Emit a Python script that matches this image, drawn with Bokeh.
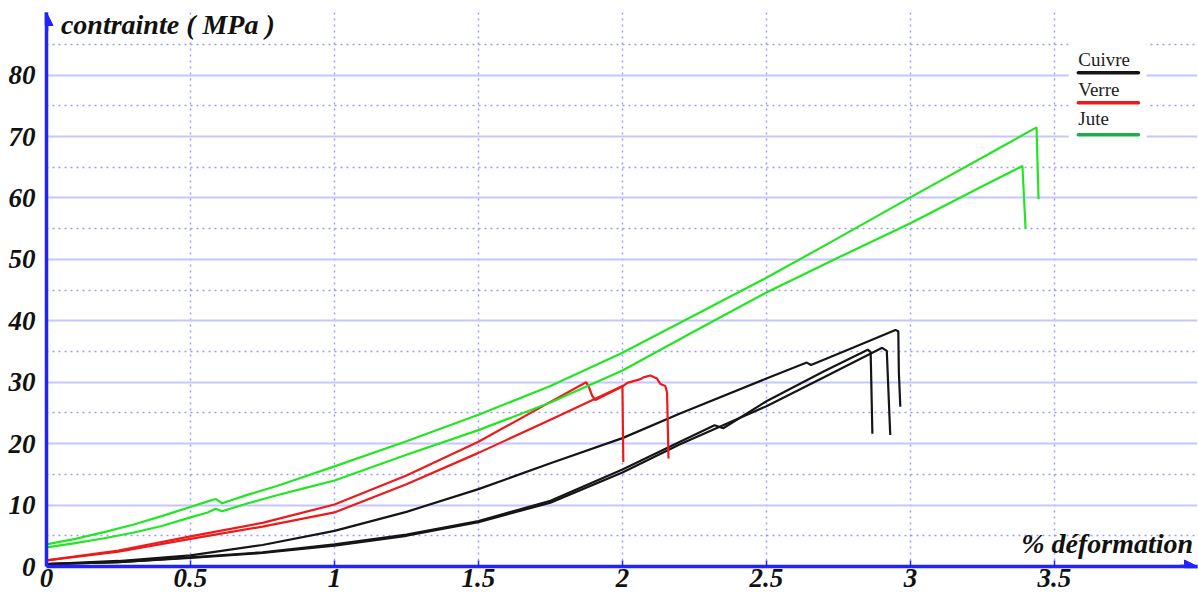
from bokeh.plotting import figure
from bokeh.models import FixedTicker, Arrow, NormalHead, Label, BoxAnnotation, Range1d
from bokeh.embed import file_html
from bokeh.resources import INLINE

# ---------------- data ----------------
x_ticks = [0, 0.5, 1, 1.5, 2, 2.5, 3, 3.5]
x_tick_labels = ["0", "0.5", "1", "1.5", "2", "2.5", "3", "3.5"]
y_ticks = [0, 10, 20, 30, 40, 50, 60, 70, 80]
y_minor_ticks = [5, 15, 25, 35, 45, 55, 65, 75, 85]

legend_names = ["Cuivre", "Verre", "Jute"]

# Jute (green) - two specimens
jute1_x = [0, 0.1, 0.2, 0.3, 0.4, 0.5, 0.56, 0.587, 0.61, 0.7, 0.8, 0.9, 1.0, 1.25, 1.5, 1.75, 2.0,
           2.25, 2.5, 2.75, 3.0, 3.25, 3.438, 3.445]
jute1_y = [3.6, 4.5, 5.6, 6.8, 8.2, 9.7, 10.6, 11.0, 10.3, 11.7, 13.1, 14.7, 16.3, 20.4, 24.7, 29.4, 34.8,
           40.9, 47.0, 53.5, 60.1, 66.6, 71.5, 59.8]
jute2_x = [0, 0.1, 0.2, 0.3, 0.4, 0.5, 0.56, 0.587, 0.61, 0.7, 0.8, 0.9, 1.0, 1.25, 1.5, 1.75, 2.0,
           2.25, 2.5, 2.75, 3.0, 3.25, 3.389, 3.40]
jute2_y = [3.1, 3.8, 4.6, 5.5, 6.6, 8.0, 8.8, 9.4, 9.0, 10.3, 11.6, 12.8, 14.0, 18.2, 22.2, 26.7, 31.9,
           38.3, 44.6, 50.3, 55.9, 61.9, 65.2, 55.0]

# Verre (red) - two specimens
verre1_x = [0, 0.25, 0.5, 0.75, 1.0, 1.25, 1.5, 1.75, 1.874, 1.882, 1.895, 1.906, 2.003, 2.017,
            2.063, 2.073, 2.097, 2.12, 2.132, 2.149, 2.155, 2.16]
verre1_y = [1.0, 2.6, 4.9, 7.1, 10.1, 14.8, 20.3, 26.8, 30.0, 29.4, 27.8, 27.1, 29.4, 29.9,
            30.5, 30.8, 31.1, 30.6, 29.7, 29.4, 28.3, 17.6]
verre2_x = [0, 0.25, 0.5, 0.75, 1.0, 1.25, 1.5, 1.75, 2.0, 2.003]
verre2_y = [1.0, 2.4, 4.5, 6.5, 8.8, 13.4, 18.5, 23.9, 29.4, 17.0]

# Cuivre (black) - three specimens
cuivre1_x = [0, 0.25, 0.5, 0.75, 1.0, 1.25, 1.5, 1.75, 2.0, 2.2, 2.5, 2.64, 2.655, 2.8, 2.948,
             2.958, 2.96, 2.965]
cuivre1_y = [0.4, 0.9, 1.8, 3.5, 5.8, 8.9, 12.6, 16.8, 20.9, 24.9, 30.6, 33.2, 32.8, 35.6, 38.5,
             38.3, 31.5, 26.0]
cuivre2_x = [0, 0.25, 0.5, 0.75, 1.0, 1.25, 1.5, 1.75, 2.0, 2.2, 2.32, 2.35, 2.5, 2.7, 2.852,
             2.862, 2.868]
cuivre2_y = [0.4, 0.7, 1.5, 2.3, 3.6, 5.2, 7.4, 10.7, 15.8, 20.3, 23.0, 22.5, 26.9, 31.8, 35.3,
             34.9, 21.6]
cuivre3_x = [0, 0.25, 0.5, 0.75, 1.0, 1.25, 1.5, 1.75, 2.0, 2.2, 2.33, 2.5, 2.7, 2.902, 2.918,
             2.93]
cuivre3_y = [0.4, 0.7, 1.4, 2.2, 3.4, 5.0, 7.2, 10.4, 15.3, 19.9, 22.6, 26.1, 30.8, 35.6, 35.1,
             21.4]

# ---------------- styles ----------------
BLUE = "#2222ff"
GREEN = "#22e622"
RED = "#ee1a1a"
BLACK = "#151515"
LEG_GREEN = "#1fad4a"
FONT = "Liberation Serif"

X_END = 3.997
Y_END = 90.2

p = figure(width=1198, height=598, output_backend="svg", toolbar_location=None,
           x_range=Range1d(0, X_END), y_range=Range1d(0, Y_END),
           min_border_left=46, min_border_right=1, min_border_top=12, min_border_bottom=32,
           background_fill_color="white", border_fill_color="white", outline_line_color=None)

# axes
p.xaxis.ticker = FixedTicker(ticks=x_ticks)
p.xaxis.major_label_overrides = {t: s for t, s in zip(x_ticks, x_tick_labels)}
p.yaxis.ticker = FixedTicker(ticks=y_ticks, minor_ticks=y_minor_ticks)
for ax in (p.xaxis, p.yaxis):
    ax.axis_line_color = BLUE
    ax.axis_line_width = 3.5
    ax.major_label_text_font = FONT
    ax.major_label_text_font_style = "bold italic"
    ax.major_label_text_font_size = "27px"
    ax.major_label_text_color = "#111111"
    ax.minor_tick_line_color = None
    ax.major_tick_line_color = BLUE
    ax.major_tick_line_width = 1.5
p.xaxis.major_tick_in = 6
p.xaxis.major_tick_out = 0
p.xaxis.major_label_standoff = 2
p.yaxis.major_tick_in = 0
p.yaxis.major_tick_out = 0
p.yaxis.major_label_standoff = 7

# grids
p.xgrid.ticker = FixedTicker(ticks=x_ticks)
p.xgrid.grid_line_color = "#9a9aff"
p.xgrid.grid_line_dash = "2 4"
p.xgrid.grid_line_width = 1.5
p.ygrid.ticker = FixedTicker(ticks=y_ticks, minor_ticks=y_minor_ticks)
p.ygrid.grid_line_color = "#c6c6ff"
p.ygrid.grid_line_width = 2
p.ygrid.minor_grid_line_color = "#9a9aff"
p.ygrid.minor_grid_line_dash = "2 4"
p.ygrid.minor_grid_line_width = 1.5

# legend background patch (under the curves, over the grid)
p.add_layout(BoxAnnotation(left=3.55, right=3.82, bottom=67.2, top=88.0, level="underlay",
                           fill_color="white", fill_alpha=1.0, line_color=None))

# arrow heads on the axes
p.add_layout(Arrow(end=NormalHead(size=13, fill_color=BLUE, line_color=BLUE),
                   x_start=X_END - 0.06, y_start=0, x_end=X_END, y_end=0,
                   line_color=BLUE, line_width=3.5))
p.add_layout(Arrow(end=NormalHead(size=13, fill_color=BLUE, line_color=BLUE),
                   x_start=0, y_start=Y_END - 3, x_end=0, y_end=Y_END,
                   line_color=BLUE, line_width=3.5))

# curves
LW = 2.2
p.line(cuivre1_x, cuivre1_y, line_color=BLACK, line_width=LW)
p.line(cuivre2_x, cuivre2_y, line_color=BLACK, line_width=LW)
p.line(cuivre3_x, cuivre3_y, line_color=BLACK, line_width=LW)
p.line(verre1_x, verre1_y, line_color=RED, line_width=LW)
p.line(verre2_x, verre2_y, line_color=RED, line_width=LW)
p.line(jute1_x, jute1_y, line_color=GREEN, line_width=LW)
p.line(jute2_x, jute2_y, line_color=GREEN, line_width=LW)

# axis titles
p.add_layout(Label(x=0.05, y=88.3, text="contrainte ( MPa )", text_font=FONT,
                   text_font_style="bold italic", text_font_size="28px", text_color="#111111",
                   text_baseline="alphabetic"))
p.add_layout(Label(x=X_END - 0.015, y=3.8, text="% déformation", text_font=FONT,
                   text_font_style="bold italic", text_font_size="28px", text_color="#111111",
                   text_align="right", text_baseline="alphabetic"))

# legend (label above a coloured bar)
leg_colors = [BLACK, RED, LEG_GREEN]
leg_text_y = [82.6, 77.6, 73.0]
leg_bar_y = [80.4, 75.5, 70.3]
for name, col, ty, by in zip(legend_names, leg_colors, leg_text_y, leg_bar_y):
    p.add_layout(Label(x=3.583, y=ty, text=name, text_font=FONT, text_font_size="19px",
                       text_color="#222222", text_baseline="alphabetic"))
    p.segment(x0=[3.583], y0=[by], x1=[3.792], y1=[by], line_color=col, line_width=3.5,
              line_cap="round")

open("out.html", "w").write(file_html(p, INLINE))
